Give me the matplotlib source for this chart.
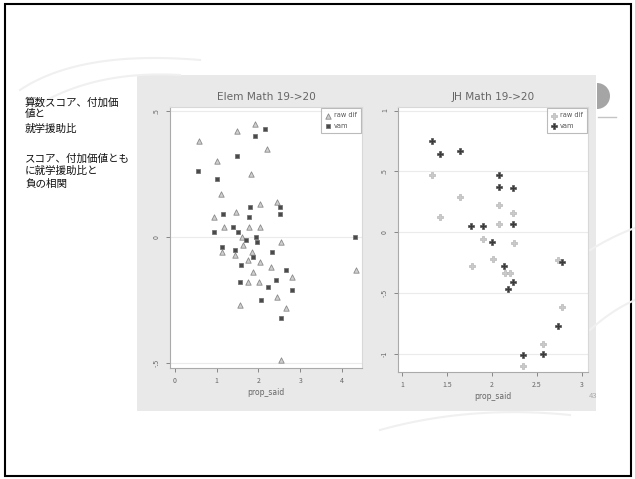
import numpy as np
import matplotlib
matplotlib.use('Agg')
import matplotlib.pyplot as plt
from matplotlib.patches import Rectangle, Wedge

plt.rcParams['font.family'] = ['Noto Sans CJK JP', 'DejaVu Sans']

# left panel: Elem Math 19->20
elem_raw_x = [0.58, 1.49, 1.92, 2.21, 1.01, 1.82, 1.10, 2.04, 2.45, 0.94, 1.46, 1.18, 1.77, 2.04,
              1.61, 1.13, 1.44, 1.85, 1.75, 2.04, 2.54, 2.30, 1.87, 1.75, 2.01, 2.81, 2.45, 1.56,
              2.66, 2.54, 4.34, 1.63]
elem_raw_y = [0.38, 0.42, 0.45, 0.35, 0.30, 0.25, 0.17, 0.13, 0.14, 0.08, 0.10, 0.04, 0.04, 0.04,
              0.00, -0.06, -0.07, -0.06, -0.09, -0.10, -0.02, -0.12, -0.14, -0.18, -0.18, -0.16,
              -0.24, -0.27, -0.28, -0.49, -0.13, -0.03]
elem_vam_x = [2.16, 1.92, 1.49, 0.55, 1.01, 1.80, 1.15, 2.52, 2.52, 1.77, 0.94, 1.39, 1.51, 4.32,
              1.70, 1.94, 1.13, 1.44, 1.87, 1.58, 2.33, 2.66, 1.56, 2.42, 2.23, 2.81, 2.06, 2.54, 1.97]
elem_vam_y = [0.43, 0.40, 0.32, 0.26, 0.23, 0.12, 0.09, 0.12, 0.09, 0.08, 0.02, 0.04, 0.02, 0.00,
              -0.01, 0.00, -0.04, -0.05, -0.08, -0.11, -0.06, -0.13, -0.18, -0.17, -0.20, -0.21,
              -0.25, -0.32, -0.02]

# right panel: JH Math 19->20
jh_raw_x = [1.33, 1.64, 2.08, 2.23, 1.42, 2.08, 1.90, 2.24, 1.78, 2.01, 2.14, 2.20, 2.73, 2.78, 2.57, 2.34]
jh_raw_y = [0.47, 0.29, 0.22, 0.16, 0.12, 0.07, -0.06, -0.09, -0.28, -0.22, -0.34, -0.34, -0.23, -0.62,
            -0.92, -1.10]
jh_vam_x = [1.33, 1.42, 1.64, 2.08, 2.08, 2.23, 1.77, 1.90, 2.23, 2.00, 2.13, 2.23, 2.18, 2.78, 2.73,
            2.57, 2.34]
jh_vam_y = [0.75, 0.64, 0.67, 0.47, 0.37, 0.36, 0.05, 0.05, 0.07, -0.08, -0.28, -0.41, -0.47, -0.25,
            -0.77, -1.00, -1.01]

elem_xticks = [0, 1, 2, 3, 4]
elem_yticks = [0.5, 0, -0.5]
elem_ylabels = ['.5', '0', '-.5']
jh_xticks = [1, 1.5, 2, 2.5, 3]
jh_xlabels = ['1', '1.5', '2', '2.5', '3']
jh_yticks = [1, 0.5, 0, -0.5, -1]
jh_ylabels = ['1', '.5', '0', '-.5', '-1']

slide_text = [('算数スコア、付加価', 103), ('値と', 114), ('就学援助比', 129),
              ('スコア、付加価値とも', 159), ('に就学援助比と', 171), ('負の相関', 184)]

W, H = 635, 479
fig = plt.figure(figsize=(6.35, 4.79), dpi=100)
fig.patch.set_facecolor('white')

# background layer in pixel coords
bg = fig.add_axes([0, 0, 1, 1], zorder=0)
bg.set_xlim(0, W)
bg.set_ylim(H, 0)
bg.axis('off')
t = np.linspace(0, 1, 60)
for (x0, y0), (xc, yc), (x1, y1) in [((20, 90), (80, 50), (200, 60)),
                                     ((30, 110), (90, 70), (180, 75)),
                                     ((590, 250), (615, 235), (635, 228)),
                                     ((590, 330), (612, 310), (635, 300)),
                                     ((380, 430), (470, 405), (570, 415))]:
    bx = (1 - t) ** 2 * x0 + 2 * (1 - t) * t * xc + t ** 2 * x1
    by = (1 - t) ** 2 * y0 + 2 * (1 - t) * t * yc + t ** 2 * y1
    bg.plot(bx, by, color='#f0f0f0', lw=1.5)
bg.add_patch(Rectangle((5, 4), 626, 472, fill=False, edgecolor='black', lw=1.5))
bg.add_patch(Rectangle((137, 75), 459, 336, facecolor='#e9e9e9', edgecolor='none'))
bg.add_patch(Wedge((597, 96), 13, -90, 90, facecolor='#a5a5a5', edgecolor='none'))
bg.plot([598, 616], [117, 117], color='#c4c4c4', lw=1)
for s, y in slide_text:
    bg.text(25, y, s, fontsize=7.6, va='center', ha='left', color='#111111')
bg.text(589, 396, '43', fontsize=5.5, color='#aaaaaa', va='center', ha='left')


def style(ax, xlim, ylim, xticks, xlabels, yticks, ylabels, title):
    ax.set_facecolor('white')
    ax.set_xlim(*xlim)
    ax.set_ylim(*ylim)
    ax.set_xticks(xticks)
    ax.set_xticklabels(xlabels)
    ax.set_yticks(yticks)
    ax.set_yticklabels(ylabels, rotation=90, va='center')
    ax.tick_params(colors='#777777', labelsize=5, length=3, width=0.6, labelcolor='#666666')
    for sp in ax.spines.values():
        sp.set_color('#d8d8d8')
        sp.set_linewidth(0.8)
    ax.spines['left'].set_color('#aaaaaa')
    ax.spines['bottom'].set_color('#aaaaaa')
    ax.grid(axis='y', color='#ebebeb', lw=0.8)
    ax.set_axisbelow(True)
    ax.set_title(title, fontsize=7.6, color='#666666', pad=5, family='DejaVu Sans')
    ax.set_xlabel('prop_said', fontsize=5.5, color='#666666', labelpad=2, family='DejaVu Sans')


ax1 = fig.add_axes([170 / W, 1 - 368 / H, 192 / W, 261 / H], zorder=1)
ax1.scatter(elem_raw_x, elem_raw_y, marker='^', s=15, facecolor='#cfcfcf', edgecolor='#8a8a8a',
            lw=0.6, label='raw dif', zorder=3)
ax1.scatter(elem_vam_x, elem_vam_y, marker='s', s=11, facecolor='#4a4a4a', edgecolor='#6a6a6a',
            lw=0.5, label='vam', zorder=3)
style(ax1, (-0.12, 4.48), (-0.52, 0.516), elem_xticks, [str(v) for v in elem_xticks],
      elem_yticks, elem_ylabels, 'Elem Math 19->20')

ax2 = fig.add_axes([398 / W, 1 - 372 / H, 190 / W, 265 / H], zorder=1)
ax2.scatter(jh_raw_x, jh_raw_y, marker='P', s=18, facecolor='#cacaca', edgecolor='#b8b8b8',
            lw=0.5, label='raw dif', zorder=3)
ax2.scatter(jh_vam_x, jh_vam_y, marker='P', s=18, facecolor='#3a3a3a', edgecolor='#555555',
            lw=0.5, label='vam', zorder=3)
style(ax2, (0.956, 3.067), (-1.152, 1.029), jh_xticks, jh_xlabels,
      jh_yticks, jh_ylabels, 'JH Math 19->20')

for ax in (ax1, ax2):
    leg = ax.legend(loc='upper right', frameon=True, fancybox=False,
                    borderpad=0.6, handletextpad=0.3, handlelength=1.0, labelspacing=0.7,
                    borderaxespad=0.2, prop={'family': 'DejaVu Sans', 'size': 4.8})
    leg.get_frame().set_edgecolor('#aaaaaa')
    leg.get_frame().set_linewidth(0.8)
    for txt in leg.get_texts():
        txt.set_color('#555555')

fig.savefig('out.png', dpi=100)
